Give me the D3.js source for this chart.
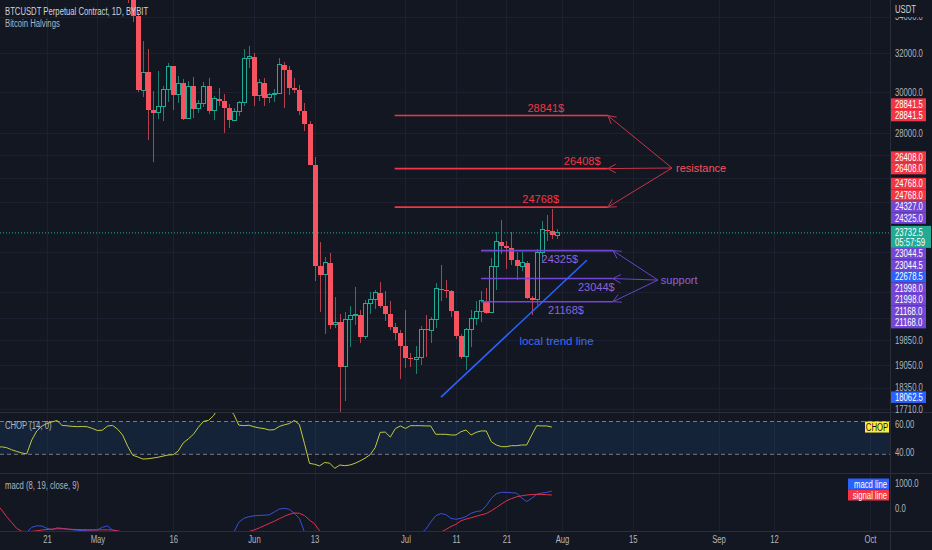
<!DOCTYPE html>
<html>
<head>
<meta charset="utf-8">
<script src="https://cdn.jsdelivr.net/npm/d3@7"></script>
<style>
  body { margin: 0; background: #131722; }
  svg text { font-family: "Liberation Sans", Arial, sans-serif; }
</style>
</head>
<body>
<script>
// daily candles, first one is 2022-05-05
const firstCandle = "2022-05-05";
const opens  = [39680,36550,36010,35470,34040,30080,31000,29100,28970,29280,30100,31300,29850,30430,28700,30290,29180,29430,30270,29080,29650,29540,29200,28620,29020,29450,31720,
                31790,29800,30450,29700,29860,29900,31370,31130,30200,30100,29080,28420,26570,22480,22130,22580,20380,20450,19000,20560,20700,20720,19970,21100,21230,21490,21030,20730,20280,20100,
                19650,19280,19240,19300,20220,20180,20550,21620,21580,21560,20840,19980,19320,20200,20570,20830,21200,20780,22430,23390,23230,23150,22680,22450,22580,21300,21230,22960,23850,23790,23640];
const highs  = [39850,36680,36150,35500,34250,32650,32190,30030,31080,30300,31450,31300,30780,30650,30540,30770,29600,30480,30680,29800,30200,29870,29380,29200,29550,32220,32400,
                31980,30650,30680,29950,30150,31750,31550,31330,30700,30350,29450,28560,26900,23360,22800,22970,21350,20750,20800,21000,21700,20870,21230,21500,21600,21860,21530,21200,20430,20180,
                20880,19430,19650,20330,20720,20650,21820,22500,21940,21600,20860,20050,20250,20880,21200,21560,21660,22750,23750,24250,23420,23750,23000,23000,22650,21380,23100,24200,24450,24700,23900];
const lows   = [35570,35260,34790,33700,30000,29730,27700,26700,28700,28600,29480,29100,29450,28650,28680,28730,28950,29250,28900,28650,29300,28020,28250,28560,28800,29300,31200,
                29300,29550,29300,29460,29500,29880,29220,29850,29950,28850,28100,26560,21900,20800,20070,20220,20250,17600,17950,19640,20350,19770,19900,20740,20900,20960,20500,20200,19850,18620,
                18970,18980,18780,19050,19300,19770,20250,21200,21300,20650,19880,19240,18900,19620,20380,20460,20750,20760,21580,22930,22340,22500,21950,22270,21250,20700,21050,22580,23400,23500,23500];
const closes = [36550,36010,35470,34040,30080,31000,29100,28970,29280,30100,31300,29850,30430,28700,30290,29180,29430,30270,29080,29650,29540,29200,28620,29020,29450,31720,31790,
                29800,30450,29700,29860,29900,31370,31130,30200,30100,29080,28420,26570,22480,22130,22580,20380,20450,19000,20560,20700,20720,19970,21100,21230,21490,21030,20730,20280,20100,19650,
                19280,19240,19300,20220,20180,20550,21620,21580,21560,20840,19980,19320,20200,20570,20830,21200,20780,22430,23390,23230,23150,22680,22450,22580,21300,21230,22960,23850,23790,23640,23732.5];

// indicator series, daily from 2022-04-11
const indicatorStart = "2022-04-11";
const chopValues = [43.0,43.6,43.0,41.5,40.3,39.2,38.5,48.5,55.0,58.5,
                    60.3,61.5,62.5,59.0,58.7,58.3,58.1,58.2,58.0,56.8,
                    55.3,55.6,58.5,59.0,56.3,52.0,44.0,37.5,36.3,34.8,
                    35.0,35.5,36.1,36.9,37.7,37.9,40.5,46.4,49.3,52.5,
                    57.7,61.9,62.6,66.0,72.0,73.0,71.0,67.0,59.2,58.8,
                    59.1,58.0,57.2,56.7,55.7,55.9,58.2,59.4,60.3,62.6,
                    59.6,46.0,31.7,31.0,29.9,32.3,31.8,28.1,30.5,30.0,
                    30.5,31.7,33.4,35.4,37.9,43.0,54.0,54.2,50.6,56.7,
                    58.6,56.8,58.8,58.8,58.8,58.6,58.6,52.6,52.6,52.6,
                    52.1,52.1,54.5,55.7,52.1,54.0,55.0,55.0,47.3,44.9,
                    43.7,43.7,44.4,44.4,44.9,44.9,52.0,58.8,58.6,58.6,57.8];
const macdValues = [-1150,-1250,-1300,-1250,-1150,-1050,-950,-760,-700,-710,
                    -800,-860,-780,-800,-830,-860,-880,-890,-880,-870,
                    -860,-760,-700,-880,-920,-1050,-1300,-1800,-2100,-2500,
                    -2700,-2650,-2500,-2300,-2200,-2050,-2000,-1850,-1750,-1650,
                    -1500,-1450,-1350,-1250,-1200,-1150,-1050,-960,-560,-400,
                    -340,-300,-285,-275,-265,-150,-30,0,-40,-200,
                    -400,-950,-1600,-2100,-2400,-2700,-2800,-3000,-2900,-2700,
                    -2500,-2350,-2150,-1950,-1750,-1600,-1500,-1450,-1400,-1400,
                    -1400,-1350,-1300,-1150,-1000,-850,-550,-300,-210,-250,
                    -400,-440,-400,-330,-200,-130,-100,100,400,580,
                    640,635,625,605,420,270,400,560,610,640,692];
const signalValues = [170,-50,-330,-560,-800,-920,-930,-920,-900,-870,
                      -850,-830,-820,-820,-830,-840,-850,-855,-860,-865,
                      -865,-860,-860,-870,-900,-950,-1050,-1200,-1400,-1650,
                      -1850,-2000,-2100,-2150,-2150,-2150,-2100,-2050,-2000,-1900,
                      -1800,-1700,-1600,-1500,-1400,-1300,-1200,-1100,-1050,-990,
                      -930,-870,-790,-700,-610,-520,-420,-320,-240,-185,
                      -200,-290,-470,-620,-900,-1250,-1500,-1750,-1950,-2100,
                      -2200,-2250,-2250,-2200,-2150,-2050,-1950,-1850,-1750,-1650,
                      -1550,-1450,-1350,-1250,-1150,-1100,-1050,-1000,-950,-850,
                      -730,-640,-500,-430,-380,-320,-260,-210,-100,30,
                      170,300,390,460,500,530,550,560,555,545,532];

// axes
const priceTicks = [34000,32000,30000,28000,27000,26000,25000,23000,21500,20600,19850,19050,18350,17710];
const timeTicks = ["2022-04-21","2022-05-01","2022-05-16","2022-06-01","2022-06-13","2022-07-01","2022-07-11",
                   "2022-07-21","2022-08-01","2022-08-15","2022-09-01","2022-09-12","2022-10-01"];
const timeTickLabels = ["21","May","16","Jun","13","Jul","11","21","Aug","15","Sep","12","Oct"];

// drawings (time, price)
const resistanceLevels = [28841.5, 26408, 24768];
const resistanceLabels = ["28841$","26408$","24768$"];
const resistanceLabelTimes = ["2022-07-28T19:00Z","2022-08-05T00:00Z","2022-07-27T19:00Z"];
const resistanceSpan = ["2022-06-28T21:00Z","2022-08-10T02:00Z"];
const resistanceNote = {text:"resistance", time:"2022-08-23T14:00Z", arrowFrom:"2022-08-22T19:00Z", price:26434};

const supportLevels = [23044.5, 21998, 21168];
const supportLabels = ["24325$","23044$","21168$"];
const supportLabelTimes = ["2022-07-31T14:00Z","2022-08-07T19:00Z","2022-08-01T19:00Z"];
const supportSpan = ["2022-07-15T23:00Z","2022-08-11T02:00Z"];
const supportNote = {text:"support", time:"2022-08-20T14:00Z", arrowFrom:"2022-08-20T00:00Z", price:21943};

const trendTimes = ["2022-07-08T01:00Z","2022-08-05T22:00Z"];
const trendPrices = [18062.5, 22678.5];
const trendNote = {text:"local trend line", time:"2022-07-30T22:00Z", price:19822};

// price scale tags
const tagPrices = [28841.5,28841.5,26408,26408,24768,24768,24327,24325,23044.5,23044.5,22678.5,21998,21998,21168,21168,18062.5];
const tagKinds  = ["res","res","res","res","res","res","sup","sup","sup","sup","trend","sup","sup","sup","sup","trend"];
const countdown = "05:57:59";

const W = 932, H = 550, plotW = 890;
const mainBottom = 412, chopTop = 413, chopBottom = 473, macdTop = 474, macdBottom = 531;
const C = {bg:"#131722", grid:"#1c2030", sep:"#2a2e39", text:"#b2b5be", up:"#22ab94", down:"#f7525f",
           res:"#f23645", sup:"#7346d6", supText:"#8b63dd", trend:"#2962ff", chop:"#c3c93c"};

const svg = d3.select("body").append("svg").attr("width", W).attr("height", H)
  .style("background", C.bg);

const x = d3.scaleUtc()
  .domain([new Date("2022-04-11T17:00Z"), new Date("2022-10-04T23:00Z")])
  .range([0, plotW]);
const y = d3.scaleLog().domain([34946, 17623]).range([0, mainBottom]);
const chopY = d3.scaleLinear().domain([38.2, 61.8]).range([454.3, 421.5]);
const macdY = d3.scaleLinear().domain([0, 1000]).range([508.3, 483.3]);

const defs = svg.append("defs");
[["clipMain", 0, mainBottom], ["clipChop", chopTop, chopBottom], ["clipMacd", macdTop, macdBottom]].forEach(([id, t, b]) => {
  defs.append("clipPath").attr("id", id).append("rect").attr("x", 0).attr("y", t).attr("width", plotW).attr("height", b - t);
});

// grid
const grid = svg.append("g");
grid.selectAll("line.v").data(timeTicks).join("line")
  .attr("x1", d => Math.round(x(new Date(d))) + 0.5).attr("x2", d => Math.round(x(new Date(d))) + 0.5)
  .attr("y1", 0).attr("y2", macdBottom).attr("stroke", C.grid);
grid.selectAll("line.h").data(priceTicks).join("line")
  .attr("x1", 0).attr("x2", plotW)
  .attr("y1", d => Math.round(y(d)) + 0.5).attr("y2", d => Math.round(y(d)) + 0.5).attr("stroke", C.grid);

// candles
const day0 = d3.utcParse("%Y-%m-%d")(firstCandle);
const candles = closes.map((c, i) => ({t: d3.utcDay.offset(day0, i), o: opens[i], h: highs[i], l: lows[i], c}));
const cg = svg.append("g").attr("clip-path", "url(#clipMain)").attr("shape-rendering", "crispEdges");
cg.selectAll("line").data(candles).join("line")
  .attr("x1", d => Math.round(x(d.t)) + 0.5).attr("x2", d => Math.round(x(d.t)) + 0.5)
  .attr("y1", d => y(d.h)).attr("y2", d => y(d.l))
  .attr("stroke", d => d.c >= d.o ? C.up : C.down).attr("stroke-opacity", 0.7);
cg.selectAll("rect").data(candles).join("rect")
  .attr("x", d => d.c >= d.o ? Math.round(x(d.t)) - 1.5 : Math.round(x(d.t)) - 2)
  .attr("width", d => d.c >= d.o ? 4 : 5)
  .attr("y", d => y(Math.max(d.o, d.c)))
  .attr("height", d => Math.max(1, Math.abs(y(d.o) - y(d.c))))
  .attr("fill", d => d.c >= d.o ? C.bg : C.down)
  .attr("stroke", d => d.c >= d.o ? C.up : "none");

// current price line
const last = closes[closes.length - 1];
svg.append("line").attr("x1", 0).attr("x2", plotW).attr("y1", y(last)).attr("y2", y(last))
  .attr("stroke", C.up).attr("stroke-dasharray", "1,2");

// drawings
const dg = svg.append("g").attr("clip-path", "url(#clipMain)");
function arrow(g, x1, y1, x2, y2, color) {
  g.append("line").attr("x1", x1).attr("y1", y1).attr("x2", x2).attr("y2", y2).attr("stroke", color).attr("stroke-width", 1);
  const a = Math.atan2(y1 - y2, x1 - x2);
  [-0.5, 0.5].forEach(s => g.append("line").attr("x1", x2).attr("y1", y2)
    .attr("x2", x2 + 9 * Math.cos(a + s)).attr("y2", y2 + 9 * Math.sin(a + s))
    .attr("stroke", color).attr("stroke-width", 1));
}
const rx0 = x(new Date(resistanceSpan[0])), rx1 = x(new Date(resistanceSpan[1]));
resistanceLevels.forEach((p, i) => {
  dg.append("line").attr("x1", rx0).attr("x2", rx1).attr("y1", y(p)).attr("y2", y(p))
    .attr("stroke", C.res).attr("stroke-width", 1.6);
  dg.append("text").attr("class", "nc").attr("x", x(new Date(resistanceLabelTimes[i]))).attr("y", y(p) - 4)
    .attr("text-anchor", "middle").attr("fill", C.res).attr("font-size", 11).text(resistanceLabels[i]);
  arrow(dg, x(new Date(resistanceNote.arrowFrom)), y(resistanceNote.price), rx1, y(p), "#c7334a");
});
dg.append("text").attr("class", "nc").attr("x", x(new Date(resistanceNote.time))).attr("y", y(resistanceNote.price))
  .attr("dy", "0.35em").attr("fill", "#f7525f").attr("font-size", 11).text(resistanceNote.text);

const sx0 = x(new Date(supportSpan[0])), sx1 = x(new Date(supportSpan[1]));
supportLevels.forEach((p, i) => {
  dg.append("line").attr("x1", sx0).attr("x2", sx1).attr("y1", y(p)).attr("y2", y(p))
    .attr("stroke", C.sup).attr("stroke-width", 1.6);
  dg.append("text").attr("class", "nc").attr("x", x(new Date(supportLabelTimes[i]))).attr("y", y(p) + 8.5)
    .attr("dy", "0.35em").attr("text-anchor", "middle").attr("fill", C.supText).attr("font-size", 11).text(supportLabels[i]);
  arrow(dg, x(new Date(supportNote.arrowFrom)), y(supportNote.price), sx1, y(p), "#6a45c8");
});
dg.append("text").attr("class", "nc").attr("x", x(new Date(supportNote.time))).attr("y", y(supportNote.price))
  .attr("dy", "0.35em").attr("fill", C.supText).attr("font-size", 11).text(supportNote.text);

dg.append("line")
  .attr("x1", x(new Date(trendTimes[0]))).attr("y1", y(trendPrices[0]))
  .attr("x2", x(new Date(trendTimes[1]))).attr("y2", y(trendPrices[1]))
  .attr("stroke", C.trend).attr("stroke-width", 1.6);
dg.append("text").attr("class", "nc").attr("x", x(new Date(trendNote.time))).attr("y", y(trendNote.price))
  .attr("dy", "0.35em").attr("text-anchor", "middle").attr("fill", "#3d6df2").attr("font-size", 11.5).text(trendNote.text);

// indicator panes
const ind0 = d3.utcParse("%Y-%m-%d")(indicatorStart);
const indDates = chopValues.map((v, i) => d3.utcDay.offset(ind0, i));

const chopG = svg.append("g").attr("clip-path", "url(#clipChop)");
chopG.append("rect").attr("x", 0).attr("width", plotW).attr("y", chopY(61.8)).attr("height", chopY(38.2) - chopY(61.8))
  .attr("fill", "rgba(33,150,243,0.1)");
[61.8, 38.2].forEach(v => chopG.append("line").attr("x1", 0).attr("x2", plotW).attr("y1", chopY(v)).attr("y2", chopY(v))
  .attr("stroke", "#787b86").attr("stroke-dasharray", "4,3"));
chopG.append("path").datum(chopValues)
  .attr("d", d3.line().x((v, i) => x(indDates[i])).y(v => chopY(v)))
  .attr("fill", "none").attr("stroke", C.chop).attr("stroke-width", 1);

const macdG = svg.append("g").attr("clip-path", "url(#clipMacd)");
[[macdValues, "#3a4fd8"], [signalValues, "#e0304f"]].forEach(([vals, col]) => {
  macdG.append("path").datum(vals)
    .attr("d", d3.line().x((v, i) => x(indDates[i])).y(v => macdY(v)))
    .attr("fill", "none").attr("stroke", col).attr("stroke-width", 1);
});

// separators
[mainBottom, chopBottom, macdBottom].forEach(v => svg.append("line").attr("x1", 0).attr("x2", W)
  .attr("y1", v + 0.5).attr("y2", v + 0.5).attr("stroke", C.sep));
svg.append("line").attr("x1", plotW + 0.5).attr("x2", plotW + 0.5).attr("y1", 0).attr("y2", H).attr("stroke", C.sep);

// price tags with stacking around the live price tag
const tagH = 11.5;
const tagColor = {res: C.res, sup: C.sup, trend: C.trend};
const tags = tagPrices.map((p, i) => ({p, kind: tagKinds[i], y0: y(p)}));
const curY = y(last), curTop = curY - 7, curBottom = curY + 15;
let lim = curTop;
tags.filter(t => t.y0 <= curY).sort((a, b) => b.y0 - a.y0)
  .forEach(t => { t.y = Math.min(t.y0, lim - tagH / 2); lim = t.y - tagH / 2; });
lim = curBottom;
tags.filter(t => t.y0 > curY).sort((a, b) => a.y0 - b.y0)
  .forEach(t => { t.y = Math.max(t.y0, lim + tagH / 2); lim = t.y + tagH / 2; });

// a scale label sitting under a tag is not shown, as on the price scale
const covered = v => v < curBottom && v > curTop ||
  tags.some(t => Math.abs(t.y - v) < tagH / 2 + 0.5);

// axes
function styleAxis(g) {
  g.select(".domain").remove();
  g.selectAll(".tick line").remove();
  g.attr("font-family", null).attr("font-size", null);
  g.selectAll("text").attr("fill", C.text).attr("font-size", 10);
}
svg.append("g").attr("transform", `translate(${plotW},0)`)
  .call(d3.axisRight(y).tickValues(priceTicks.filter(p => !covered(y(p))))
    .tickFormat(d3.format(".1f")).tickSize(0).tickPadding(5))
  .call(styleAxis);
svg.append("g").attr("transform", `translate(${plotW},0)`)
  .call(d3.axisRight(chopY).tickValues([60, 40]).tickFormat(d3.format(".2f")).tickSize(0).tickPadding(5))
  .call(styleAxis);
svg.append("g").attr("transform", `translate(${plotW},0)`)
  .call(d3.axisRight(macdY).tickValues([1000, 0]).tickFormat(d3.format(".1f")).tickSize(0).tickPadding(5))
  .call(styleAxis);
svg.append("g").attr("transform", `translate(0,${macdBottom})`)
  .call(d3.axisBottom(x).tickValues(timeTicks.map(d => new Date(d))).tickFormat((d, i) => timeTickLabels[i]).tickSize(0).tickPadding(5))
  .call(styleAxis);

svg.append("rect").attr("x", plotW + 1).attr("y", 0).attr("width", W - plotW - 1).attr("height", 17).attr("fill", C.bg);
svg.append("text").attr("x", plotW + 5).attr("y", 13).attr("fill", "#d1d4dc").attr("font-size", 10).text("USDT");

const tg = svg.append("g");
tg.selectAll("rect").data(tags).join("rect")
  .attr("x", plotW + 1).attr("width", 35).attr("y", d => d.y - tagH / 2).attr("height", tagH)
  .attr("fill", d => tagColor[d.kind]);
tg.selectAll("text").data(tags).join("text")
  .attr("x", plotW + 5).attr("y", d => d.y).attr("dy", "0.35em")
  .attr("fill", "#ffffff").attr("font-size", 10).text(d => d3.format(".1f")(d.p));
tg.append("rect").attr("x", plotW + 1).attr("width", 40).attr("y", curTop).attr("height", curBottom - curTop).attr("fill", C.up);
tg.append("text").attr("x", plotW + 5).attr("y", curY).attr("dy", "0.35em").attr("fill", "#fff").attr("font-size", 10).text(d3.format(".1f")(last));
tg.append("text").attr("x", plotW + 5).attr("y", curY + 9.5).attr("dy", "0.35em").attr("fill", "#fff").attr("font-size", 10).text(countdown);

// CHOP tag at last value, legend tags for MACD
const lastChop = chopValues[chopValues.length - 1];
tg.append("rect").attr("x", plotW - 25).attr("width", 24).attr("y", chopY(lastChop) - 5.5).attr("height", 11).attr("fill", "#ffeb3b");
tg.append("text").attr("x", plotW - 13).attr("y", chopY(lastChop)).attr("dy", "0.35em").attr("text-anchor", "middle")
  .attr("fill", "#131722").attr("font-size", 10).text("CHOP");

const macdTags = [{name: "macd line", v: macdValues[macdValues.length - 1], col: "#2962ff"},
                  {name: "signal line", v: signalValues[signalValues.length - 1], col: "#f23645"}];
const sigY = macdY(macdTags[1].v);
macdTags[1].y = sigY;
macdTags[0].y = Math.min(macdY(macdTags[0].v), sigY - 11);
macdTags.forEach(t => {
  tg.append("rect").attr("x", plotW - 42).attr("width", 41).attr("y", t.y - 5.5).attr("height", 11).attr("fill", t.col);
  tg.append("text").attr("x", plotW - 3).attr("y", t.y).attr("dy", "0.35em").attr("text-anchor", "end")
    .attr("fill", "#fff").attr("font-size", 10).text(t.name);
});

// legends
const lg = svg.append("g").attr("font-size", 10);
lg.append("text").attr("x", 5).attr("y", 15).attr("fill", "#d1d4dc").text("BTCUSDT Perpetual Contract, 1D, BYBIT");
lg.append("text").attr("x", 5).attr("y", 27).attr("fill", C.text).text("Bitcoin Halvings");
lg.append("text").attr("x", 5).attr("y", 429).attr("fill", C.text).text("CHOP (14, 0)");
lg.append("text").attr("x", 5).attr("y", 489).attr("fill", C.text).text("macd (8, 19, close, 9)");

// the reference UI font is narrower than anything installed: squeeze the UI texts
svg.selectAll("text:not(.nc)").each(function () {
  const len = this.getComputedTextLength();
  if (len > 0) d3.select(this).attr("textLength", len * 0.77).attr("lengthAdjust", "spacingAndGlyphs");
});
</script>
</body>
</html>
